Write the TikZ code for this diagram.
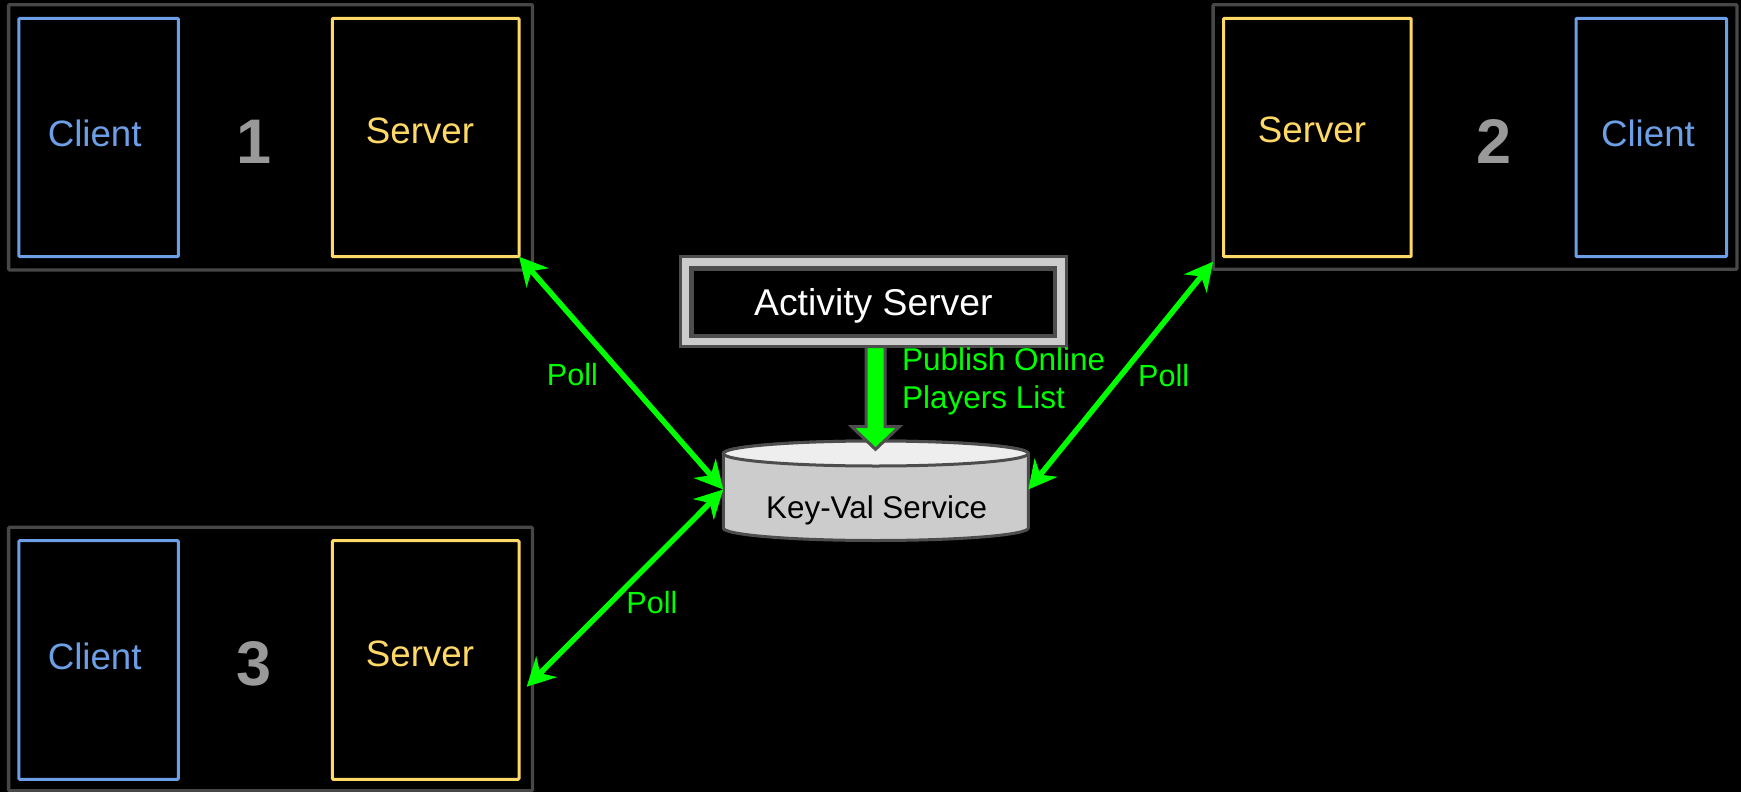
\documentclass[tikz,border=0pt]{standalone}
\usepackage{fontspec}
\setmainfont{Liberation Sans}
\usetikzlibrary{arrows.meta,calc}
\definecolor{grpgray}{HTML}{474747}
\definecolor{edgegray}{HTML}{4D4D4D}
\definecolor{clientblue}{HTML}{6C9FE6}
\definecolor{serveryellow}{HTML}{FFD966}
\definecolor{numgray}{HTML}{999999}
\definecolor{pollgreen}{HTML}{00FF00}
\definecolor{lightfill}{HTML}{CCCCCC}
\definecolor{topfill}{HTML}{EEEEEE}
\begin{document}
\begin{tikzpicture}[x=1pt,y=-1pt,
  box/.style={inner sep=0pt, outer sep=0pt, anchor=north west, rounded corners=1pt},
  grp/.style={box, draw=grpgray, line width=3.3pt},
  clientbox/.style={box, draw=clientblue, line width=3pt},
  serverbox/.style={box, draw=serveryellow, line width=3pt},
  boxtext/.style={inner sep=0pt, font=\fontsize{36.7}{44}\selectfont},
  clienttext/.style={boxtext, text=clientblue},
  servertext/.style={boxtext, text=serveryellow},
  numtext/.style={inner sep=0pt, text=numgray, font=\fontsize{63}{70}\selectfont\bfseries},
  actout/.style={inner sep=0pt, outer sep=0pt, fill=lightfill, draw=edgegray, line width=3pt},
  actin/.style={inner sep=0pt, outer sep=0pt, fill=black, draw=edgegray, line width=4.5pt,
    text=white, text depth=0pt, font=\fontsize{37.3}{44}\selectfont},
  cylbody/.style={fill=lightfill, draw=edgegray, line width=3pt},
  cyltop/.style={fill=topfill, draw=edgegray, line width=3pt},
  pubarrow/.style={fill=pollgreen, draw=edgegray, line width=3pt, line join=miter},
  greentext/.style={inner sep=0pt, text=pollgreen, font=\fontsize{31.5}{38.5}\selectfont},
  polltext/.style={inner sep=0pt, text=pollgreen, font=\fontsize{30.6}{36}\selectfont},
  poll/.style={draw=pollgreen, line width=5.5pt,
    arrows={Stealth[length=28pt,width=29pt,inset=9pt]-Stealth[length=28pt,width=29pt,inset=9pt]}}
]
% background and page size
\path[fill=black] (0,0) rectangle (1741,792);
\useasboundingbox (0,0) rectangle (1741,792);

% group 1
\node[grp, minimum width=523.8pt, minimum height=265.3pt] (grp1) at (8.6,4.7) {};
\node[clientbox, minimum width=159.5pt, minimum height=238.4pt] (cli1) at (18.9,18.3) {};
\node[serverbox, minimum width=186.7pt, minimum height=238.4pt] (srv1) at (332.3,18.3) {};
\node[clienttext] (cli1t) at (94.7,133) {Client};
\node[servertext] (srv1t) at (420,131) {Server};
\node[numtext] (n1) at (253.8,142) {1};

% group 2
\node[grp, minimum width=523.8pt, minimum height=264.6pt] (grp2) at (1213.1,4.7) {};
\node[serverbox, minimum width=187.7pt, minimum height=238.4pt] (srv2) at (1223.5,18.3) {};
\node[clientbox, minimum width=150.6pt, minimum height=238.4pt] (cli2) at (1576,18.3) {};
\node[servertext] (srv2t) at (1312,130) {Server};
\node[clienttext] (cli2t) at (1648,133) {Client};
\node[numtext] (n2) at (1494,142) {2};

% group 3
\node[grp, minimum width=523.8pt, minimum height=263.4pt] (grp3) at (8.6,527.3) {};
\node[clientbox, minimum width=159.5pt, minimum height=238.6pt] (cli3) at (18.9,540.7) {};
\node[serverbox, minimum width=186.7pt, minimum height=238.6pt] (srv3) at (332.3,540.7) {};
\node[clienttext] (cli3t) at (94.7,656) {Client};
\node[servertext] (srv3t) at (420,654) {Server};
\node[numtext] (n3) at (253.8,664) {3};

% activity server
\node[actout, minimum width=385.3pt, minimum height=90pt] (act) at (873.35,301.7) {};
\node[actin, minimum width=363.3pt, minimum height=67.7pt] (actin) at (873.35,302.15) {Activity Server};

% key-value store (cylinder)
\node[inner sep=0pt, outer sep=0pt, minimum width=305pt, minimum height=97pt] (kv) at (875.8,489.5) {};
\draw[cylbody] (723.3,453.5) -- (723.3,528)
  arc[start angle=180, end angle=360, x radius=152.5pt, y radius=12.5pt]
  -- (1028.3,453.5)
  arc[start angle=0, end angle=180, x radius=152.5pt, y radius=12.5pt] -- cycle;
\draw[cyltop] (875.8,453.5) ellipse [x radius=152.5pt, y radius=12.5pt];
\node[inner sep=0pt, text depth=0pt, font=\fontsize{31.4}{38}\selectfont] (kvt) at (876.7,506.7) {Key-Val Service};

% publish arrow
\coordinate (pubtip) at (875.5,449.3);
\draw[pubarrow] (pubtip) -- ++(-23.8,-22.6) -- ++(14.3,0)
  -- ($(pubtip |- act.south)+(-9.5,0)$) -- ($(pubtip |- act.south)+(9.5,0)$)
  -- ($(pubtip)+(9.5,-22.6)$) -- ++(14.3,0) -- cycle;
\node[greentext, align=left, anchor=north west] (pubt) at (902,347) {Publish Online\\Players List};

% polling connectors
\coordinate (g2tip) at ([yshift=7.6pt]grp2.south west);
\coordinate (s3tip) at (526.7,686.7);
\draw[poll] (srv1.south east) -- (kv.west)
  node[polltext, midway, xshift=-48.7pt, yshift=-1.7pt] {Poll};
\draw[poll] (g2tip) -- (kv.east)
  node[polltext, midway, xshift=43pt, yshift=0pt] {Poll};
\draw[poll] (kv.west) -- (s3tip)
  node[polltext, midway, xshift=27pt, yshift=-14pt] {Poll};
\end{tikzpicture}
\end{document}
